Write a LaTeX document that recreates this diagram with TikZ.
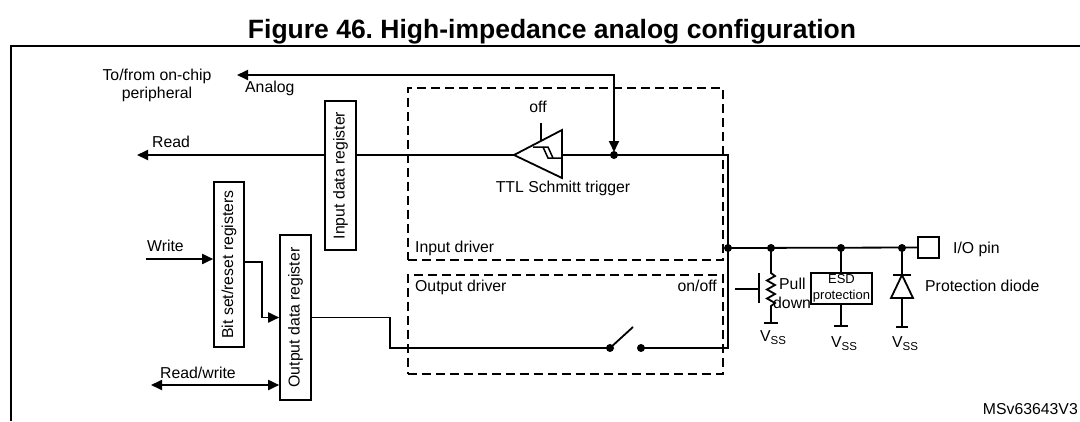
\documentclass[tikz,border=0pt]{standalone}
\usepackage{fontspec}
\setmainfont{Liberation Sans}
\usetikzlibrary{arrows.meta}
\frenchspacing
\newcommand\lblfont{\fontsize{15.8}{18}\selectfont}
\newcommand\smallfnt{\fontsize{13}{16}\selectfont}
\newcommand\vssText{V\raisebox{-2.5pt}{\fontsize{11.5}{11.5}\selectfont SS}}
\tikzset{
  wire/.style={line width=1.8pt},
  arr/.style={wire,-{Triangle[length=11pt,width=10pt]}},
  dblarr/.style={wire,{Triangle[length=11pt,width=10pt]}-{Triangle[length=11pt,width=10pt]}},
  regbox/.style={draw,line width=1.6pt,rotate=90,inner sep=0pt,font=\lblfont},
  dashbox/.style={draw,line width=1.5pt,dash pattern=on 9pt off 5pt,inner sep=0pt,anchor=north west},
  lbl/.style={font=\lblfont,inner sep=0pt},
  jdot/.style={circle,fill,inner sep=0pt,minimum size=8pt},
  gnd/.style={line width=1.8pt},
}
\begin{document}
\begin{tikzpicture}[x=1pt,y=-1pt]
\useasboundingbox (0,0) rectangle (1080,421);
% frame and title
\draw[line width=2.4pt] (11,421) -- (11,46) -- (1080,46);
\node[font=\fontsize{26.5}{30}\selectfont\bfseries,inner sep=0pt,anchor=base] (title) at (552,38) {Figure 46. High-impedance analog configuration};

% dashed driver boxes
\node[dashbox,minimum width=315pt,minimum height=172pt] (indrv) at (407,87) {};
\node[dashbox,minimum width=315pt,minimum height=99pt] (outdrv) at (407,274) {};
\node[lbl,anchor=base west] (indrvlbl) at (415,252) {Input driver};
\node[lbl,anchor=base west] (outdrvlbl) at (415,291.5) {Output driver};
\node[lbl,anchor=base east] (onoff) at (717,291.5) {on/off};

% registers
\node[regbox,minimum width=149pt,minimum height=31pt] (idr) at (340.5,175.5) {Input data register};
\node[regbox,minimum width=165pt,minimum height=30pt] (bsr) at (229,264.5) {Bit set/reset registers};
\node[regbox,minimum width=165pt,minimum height=31pt] (odr) at (295.5,317.5) {Output data register};

% coordinates
\coordinate (readend) at (137,155);
\coordinate (analogend) at (237,75);
\coordinate (analogcorner) at (614,75);
\coordinate (tap) at (614,155);
\coordinate (trigtip) at (514,155);
\coordinate (trigback) at (562,155);
\coordinate (topright) at (728,155);
\coordinate (jn) at (728,248);
\coordinate (botright) at (728,348);
\coordinate (swL) at (610,348);
\coordinate (swR) at (641,348);
\coordinate (writeend) at (146,259);
\coordinate (rwend) at (151,385);
\coordinate (jpd) at (771,248);
\coordinate (jesd) at (841,248);
\coordinate (jdi) at (902,248);

% texts left
\node[lbl,anchor=base] (tofrom1) at (157,80) {To/from on-chip};
\node[lbl,anchor=base] (tofrom2) at (157,98) {peripheral};
\node[lbl,anchor=base west] (analoglbl) at (245,92.5) {Analog};
\node[lbl,anchor=base west] (readlbl) at (152,147.5) {Read};
\node[lbl,anchor=base west] (writelbl) at (147,251.5) {Write};
\node[lbl,anchor=base west] (rwlbl) at (160,378) {Read/write};

% connectors left
\draw[arr] (idr.north |- readend) -- (readend);
\draw[arr] (writeend) -- (bsr.north |- writeend);
\draw[dblarr] (rwend) -- (odr.north |- rwend);
\draw[arr] (bsr.south |- 0,262) -- (262,262) -- (262,317.5) -- (odr.north);
\draw[wire] (odr.south) -- (390,317.5) -- (390,348) -- (swL);

% Schmitt trigger
\draw[wire,line join=miter] (trigtip) -- (562,130) -- (562,178) -- cycle;
\draw[line width=1.5pt] (533,147) -- (548,147) -- (553,158) -- (562,158);
\draw[line width=1.5pt] (543,147) -- (548,158) -- (553,158);
\draw[wire] (541,123) -- (541,141);
\node[lbl,anchor=base] (offlbl) at (538,112.5) {off};
\node[lbl,anchor=base] (ttllbl) at (563,192.5) {TTL Schmitt trigger};

% main wires
\draw[wire] (idr.south |- trigtip) -- (trigtip);
\draw[wire] (trigback) -- (topright) -- (botright) -- (swR);
\draw[dblarr,shorten >=3pt] (analogend) -- (analogcorner) -- (tap);
\node[jdot] at (tap) {};

% switch
\node[jdot] at (swL) {};
\node[jdot] at (swR) {};
\draw[wire] (swL) -- (633,327);

% right side bus
\node[draw,line width=1.6pt,minimum size=21pt,inner sep=0pt] (pin) at (928.5,247.5) {};
\draw[wire] (jn) -- (pin.west);
\node[jdot] at (jn) {};
\node[jdot] at (jpd) {};
\node[jdot] at (jesd) {};
\node[jdot] at (jdi) {};
\node[lbl,anchor=base west] (pinlbl) at (953,253) {I/O pin};

% pull-down
\draw[wire] (jpd) -- (771,273) -- (775,276) -- (767,280.5) -- (775,285) -- (767,289.5) -- (775,294) -- (767,298.5) -- (775,303) -- (771,306) -- (771,323);
\draw[gnd] (764,323) -- (778,323);
\draw[line width=2.6pt] (759,273) -- (759,303);
\draw[wire] (735,289) -- (758,289);
\node[lbl,anchor=base west] (pulllbl) at (779,289) {Pull};
\node[lbl,anchor=base west] (downlbl) at (773,308.5) {down};
\node[lbl,anchor=base west] (vss1) at (760,341.5) {\vssText};

% ESD
\node[draw,line width=1.5pt,minimum width=61pt,minimum height=31pt,inner sep=0pt,align=center,font=\smallfnt] (esd) at (841.5,288.5) {ESD\\protection};
\draw[wire] (jesd) -- (jesd |- esd.north);
\draw[wire] (jesd |- esd.south) -- (841,326);
\draw[gnd] (834,326) -- (848,326);
\node[lbl,anchor=base west] (vss2) at (831,347.5) {\vssText};

% diode
\draw[wire] (jdi) -- (902,327);
\draw[wire] (893,275) -- (911,275);
\draw[wire,fill=white,line join=miter] (902,275) -- (891,298) -- (913,298) -- cycle;
\draw[gnd] (896,327) -- (908,327);
\node[lbl,anchor=base west] (vss3) at (892,347.5) {\vssText};
\node[lbl,anchor=base west] (diodelbl) at (925,291.5) {Protection diode};

\node[lbl,anchor=base east] (msv) at (1078,414) {MSv63643V3};
\end{tikzpicture}
\end{document}
